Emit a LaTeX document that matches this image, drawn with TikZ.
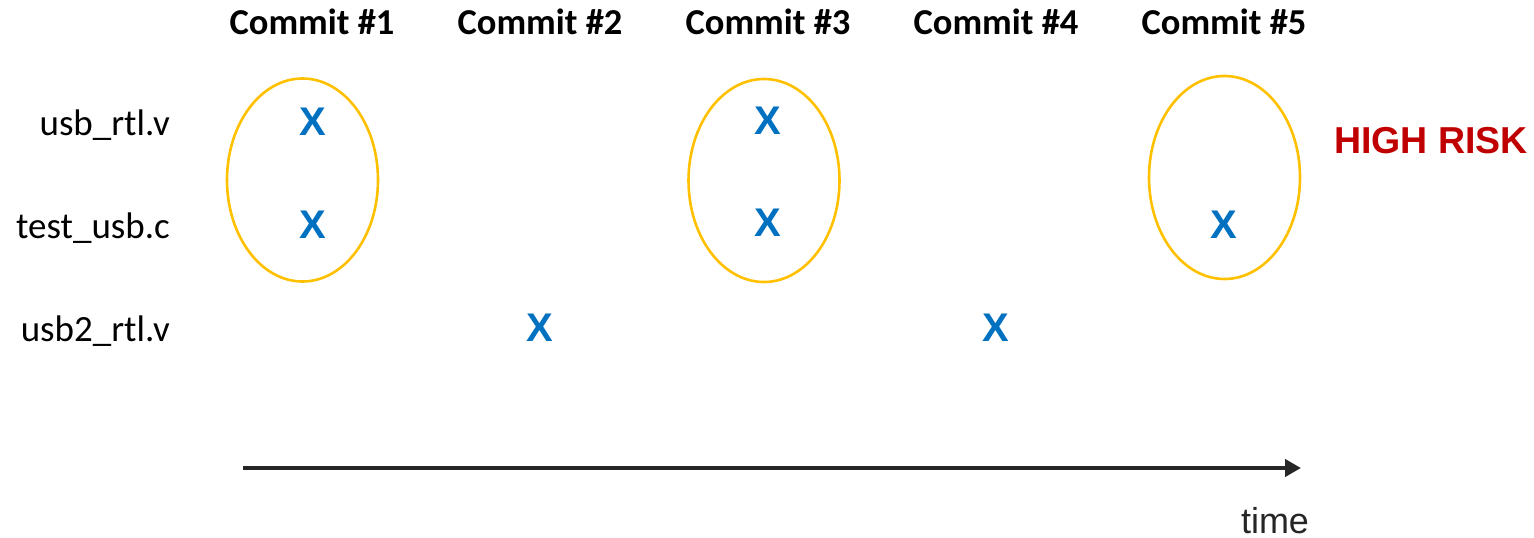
\documentclass[tikz,border=0pt]{standalone}
\usepackage{fontspec}
\setmainfont{Carlito}
\newfontfamily\calfont{Carlito}
\newfontfamily\arifont{Liberation Sans}
\usetikzlibrary{shapes.geometric,arrows.meta}
\definecolor{ringyellow}{HTML}{FFC000}
\definecolor{markblue}{HTML}{0070C0}
\definecolor{riskred}{HTML}{C00000}
\definecolor{axisgray}{HTML}{262626}
\begin{document}
\begin{tikzpicture}[x=1pt,y=-1pt,
  header/.style={anchor=base,inner sep=0pt,font=\calfont\bfseries\fontsize{36.5}{40}\selectfont},
  filelabel/.style={anchor=base east,inner sep=0pt,font=\calfont\fontsize{37}{40}\selectfont},
  xmark/.style={inner sep=0pt,text=markblue,font=\arifont\bfseries\fontsize{40}{44}\selectfont},
  ring/.style={draw=ringyellow,line width=2.6pt,ellipse,inner sep=0pt,minimum width=151pt,minimum height=203pt},
  axis/.style={draw=axisgray,line width=4pt,-{Triangle[length=16pt,width=17pt]}}]
\useasboundingbox (0,0) rectangle (1534,538);
% headers
\node[header] (h1) at (312,34) {Commit \#1};
\node[header] (h2) at (540,34) {Commit \#2};
\node[header] (h3) at (768,34) {Commit \#3};
\node[header] (h4) at (996,34) {Commit \#4};
\node[header] (h5) at (1224,34) {Commit \#5};
% file labels
\node[filelabel] (f1) at (170,135) {usb\_rtl.v};
\node[filelabel] (f2) at (170,238) {test\_usb.c};
\node[filelabel] (f3) at (170,341) {usb2\_rtl.v};
% rings
\node[ring] (r1) at (302.5,180) {};
\node[ring] (r3) at (764,180.5) {};
\node[ring] (r5) at (1224.5,177.5) {};
% marks
\node[xmark] (m11) at (313,122) {X};
\node[xmark] (m12) at (313,225) {X};
\node[xmark] (m31) at (768,121) {X};
\node[xmark] (m32) at (768,223) {X};
\node[xmark] (m52) at (1224,225) {X};
\node[xmark] (m23) at (540,327.5) {X};
\node[xmark] (m43) at (996,327.5) {X};
% high risk
\node[inner sep=0pt,text=riskred,font=\arifont\bfseries\fontsize{37.5}{42}\selectfont] (risk) at (1431,141) {HIGH RISK};
% time axis
\coordinate (t0) at (243,468);
\coordinate (t1) at (1301,468);
\draw[axis] (t0) -- (t1);
\node[anchor=base,inner sep=0pt,text=axisgray,font=\arifont\fontsize{36}{40}\selectfont] (time) at (1275,533) {time};
\end{tikzpicture}
\end{document}
